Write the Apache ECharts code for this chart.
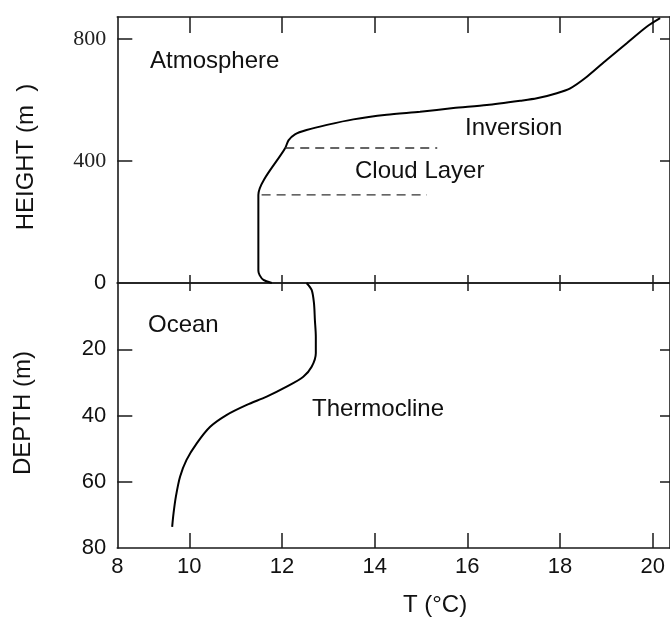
<!DOCTYPE html>
<html>
<head>
<meta charset="utf-8">
<script src="https://cdn.jsdelivr.net/npm/echarts@6/dist/echarts.min.js"></script>
<style>html,body{margin:0;padding:0;background:#fff}#c{width:670px;height:618px}</style>
</head>
<body>
<div id="c"></div>
<script>
// ---- data ----
const tempMin = 8.446, tempMax = 20.373;
const tempTicks = [10, 12, 14, 16, 18, 20];
const tempLabelValues = [8.446, 10, 12, 14, 16, 18, 20];
const heightMax = 873;
const heightTicks = [400, 800];
const heightLabelValues = [0, 400, 800];
const depthMax = 80;
const depthTicks = [20, 40, 60];
const depthLabelValues = [20, 40, 60, 80];

// atmosphere temperature profile (T in °C, height in m)
const atmTemp   = [11.78, 11.60, 11.52, 11.49, 11.49, 11.49, 12.07, 12.14, 12.28, 12.53, 12.97, 13.54, 14.26, 14.98, 15.70, 16.42, 17.14, 17.50, 17.93, 18.22, 18.58, 19.01, 19.44, 19.87, 20.16];
const atmHeight = [0,     10,    25,    40,    150,   289,   443,   468,   488,   502,   519,   537,   552,   562,   574,   584,   598,   606,   623,   639,   677,   733,   787,   841,   869];

// ocean temperature profile (T in °C, depth in m)
const oceanTemp  = [12.53, 12.64, 12.69, 12.71, 12.73, 12.73, 12.64, 12.46, 12.10, 11.67, 11.24, 10.81, 10.45, 10.16, 9.94, 9.80, 9.71, 9.66, 9.63];
const oceanDepth = [0,     2.1,   6.1,   11.2,  16.2,  21.2,  25.3,  28.3,  31.3,  34.3,  36.8,  39.8,  43.4,  48.4,  53.4, 58.5, 64.5, 69.5, 73.6];

// cloud layer boundaries
const cloudTopHeight = 443, cloudTopT = [12.07, 15.35];
const cloudBaseHeight = 289, cloudBaseT = [11.56, 15.13];

// ---- chart ----
const chart = echarts.init(document.getElementById('c'), null, {renderer: 'canvas'});
const FONT = '"Liberation Sans", Arial, Helvetica, sans-serif';
const axisLineStyle = {color: '#1a1a1a', width: 1.6};
const tickStyle = {color: '#1a1a1a', width: 1.5};

function xAx(grid, pos, len, labels) {
  return {
    type: 'value', gridIndex: grid, position: pos, min: tempMin, max: tempMax,
    axisLine: {show: true, onZero: false, lineStyle: axisLineStyle},
    axisTick: {show: true, inside: true, length: len, customValues: tempTicks, lineStyle: tickStyle},
    axisLabel: labels ? {show: true, customValues: tempLabelValues, formatter: v => String(Math.round(v)),
      color: '#111', fontFamily: FONT, fontSize: 22, margin: 8} : {show: false},
    splitLine: {show: false}
  };
}
function yAx(grid, pos, min, max, inverse, ticks, len, labelVals, fmt) {
  return {
    type: 'value', gridIndex: grid, position: pos, min: min, max: max, inverse: inverse,
    axisLine: {show: true, onZero: false, lineStyle: axisLineStyle},
    axisTick: {show: true, inside: true, length: len, customValues: ticks, lineStyle: tickStyle},
    axisLabel: labelVals ? {show: true, customValues: labelVals, formatter: fmt,
      color: '#111', fontFamily: FONT, fontSize: 22, margin: 11,
      rich: {s: {fontFamily: '"Liberation Serif", "Times New Roman", serif', fontSize: 22, color: '#222'},
             n: {fontFamily: FONT, fontSize: 22, color: '#111'}}} : {show: false},
    splitLine: {show: false}
  };
}

const textStyle = (t, size) => ({text: t, font: size + 'px ' + FONT, fill: '#111'});

chart.setOption({
  animation: false,
  backgroundColor: '#fff',
  grid: [
    {left: 117.3, right: 0, top: 17, height: 266},
    {left: 117.3, right: 0, top: 283, height: 265}
  ],
  xAxis: [
    xAx(0, 'bottom', 8, false),
    xAx(0, 'top', 16, false),
    xAx(1, 'top', 8, false),
    xAx(1, 'bottom', 15, true)
  ],
  yAxis: [
    yAx(0, 'left', 0, heightMax, false, heightTicks, 15, heightLabelValues,
        v => v === 0 ? '{n|0}' : '{s|' + v + '}'),
    yAx(0, 'right', 0, heightMax, false, heightTicks, 10, null),
    yAx(1, 'left', 0, depthMax, true, depthTicks, 15, depthLabelValues, v => String(v)),
    yAx(1, 'right', 0, depthMax, true, depthTicks, 10, null)
  ],
  series: [
    {type: 'line', xAxisIndex: 0, yAxisIndex: 0, showSymbol: false, smooth: 0.25,
     lineStyle: {color: '#000', width: 2}, data: atmTemp.map((t, i) => [t, atmHeight[i]])},
    {type: 'line', xAxisIndex: 3, yAxisIndex: 2, showSymbol: false, smooth: 0.3,
     lineStyle: {color: '#000', width: 2}, data: oceanTemp.map((t, i) => [t, oceanDepth[i]])},
    {type: 'line', xAxisIndex: 0, yAxisIndex: 0, showSymbol: false,
     lineStyle: {color: '#333', width: 1.3, type: [9, 6]},
     data: [[cloudTopT[0], cloudTopHeight], [cloudTopT[1], cloudTopHeight]]},
    {type: 'line', xAxisIndex: 0, yAxisIndex: 0, showSymbol: false,
     lineStyle: {color: '#333', width: 1.3, type: [9, 6]},
     data: [[cloudBaseT[0], cloudBaseHeight], [cloudBaseT[1], cloudBaseHeight]]}
  ],
  graphic: [
    {type: 'text', x: 150, y: 61, style: Object.assign(textStyle('Atmosphere', 24), {textVerticalAlign: 'middle'})},
    {type: 'text', x: 465, y: 128, style: Object.assign(textStyle('Inversion', 24), {textVerticalAlign: 'middle'})},
    {type: 'text', x: 355, y: 171, style: Object.assign(textStyle('Cloud Layer', 24), {textVerticalAlign: 'middle'})},
    {type: 'text', x: 148, y: 325, style: Object.assign(textStyle('Ocean', 24), {textVerticalAlign: 'middle'})},
    {type: 'text', x: 312, y: 409, style: Object.assign(textStyle('Thermocline', 24), {textVerticalAlign: 'middle'})},
    {type: 'text', x: 435, y: 605, style: Object.assign(textStyle('T (°C)', 24), {textAlign: 'center', textVerticalAlign: 'middle'})},
    {type: 'text', x: 26, y: 157, rotation: Math.PI / 2, style: Object.assign(textStyle('HEIGHT (m  )', 24), {textAlign: 'center', textVerticalAlign: 'middle'})},
    {type: 'text', x: 23, y: 413, rotation: Math.PI / 2, style: Object.assign(textStyle('DEPTH (m)', 24), {textAlign: 'center', textVerticalAlign: 'middle'})}
  ]
});
</script>
</body>
</html>
